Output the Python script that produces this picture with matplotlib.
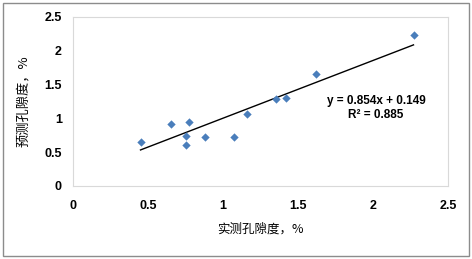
import numpy as np
import matplotlib.pyplot as plt
from matplotlib.patches import Rectangle

plt.rcParams['font.family'] = ['Noto Sans CJK SC', 'DejaVu Sans']

# measured vs predicted porosity, %
measured = [0.45, 0.65, 0.77, 0.75, 0.75, 0.88, 1.07, 1.16, 1.35, 1.42, 1.62, 2.27]
predicted = [0.65, 0.91, 0.94, 0.74, 0.61, 0.72, 0.72, 1.07, 1.28, 1.30, 1.66, 2.24]
slope, intercept = 0.854, 0.149
ticks = [0, 0.5, 1, 1.5, 2, 2.5]
tick_labels = ['0', '0.5', '1', '1.5', '2', '2.5']

fig = plt.figure(figsize=(4.72, 2.59), dpi=100)
ax = fig.add_axes([73 / 472, 1 - 186 / 259, 375 / 472, 169 / 259])

ax.scatter(measured, predicted, marker='D', s=18, color='#4a7ebb', zorder=3, linewidths=0)
xs = np.array([min(measured), max(measured)])
ax.plot(xs, slope * xs + intercept, color='black', lw=1.0, zorder=2)

ax.set_xlim(0, 2.5)
ax.set_ylim(0, 2.5)
ax.set_xticks(ticks)
ax.set_xticklabels(tick_labels)
ax.set_yticks(ticks)
ax.set_yticklabels(tick_labels)
for lab in ax.get_xticklabels() + ax.get_yticklabels():
    lab.set_family(['Liberation Sans', 'DejaVu Sans'])
    lab.set_fontweight('bold')
    lab.set_fontsize(9)
ax.tick_params(length=0, pad=10)
ax.tick_params(axis='y', pad=8)
for s in ax.spines.values():
    s.set_color('#d9d9d9')
    s.set_linewidth(0.8)

ax.set_xlabel('实测孔隙度，%', fontsize=9, labelpad=8)
ax.set_ylabel('预测孔隙度，%', fontsize=9.5, labelpad=10)

ax.text(2.02, 1.15, f'y = {slope:.3f}x + {intercept:.3f}\nR² = 0.885',
        ha='center', va='center', fontsize=8.5, fontweight='bold',
        family=['Liberation Sans', 'DejaVu Sans'], linespacing=1.25)

fig.patches.append(Rectangle((3 / 472, 3 / 259), 466 / 472, 253 / 259,
                             transform=fig.transFigure, fill=False,
                             edgecolor='#8c8c8c', lw=1.0))

fig.savefig('out.png', dpi=100)
